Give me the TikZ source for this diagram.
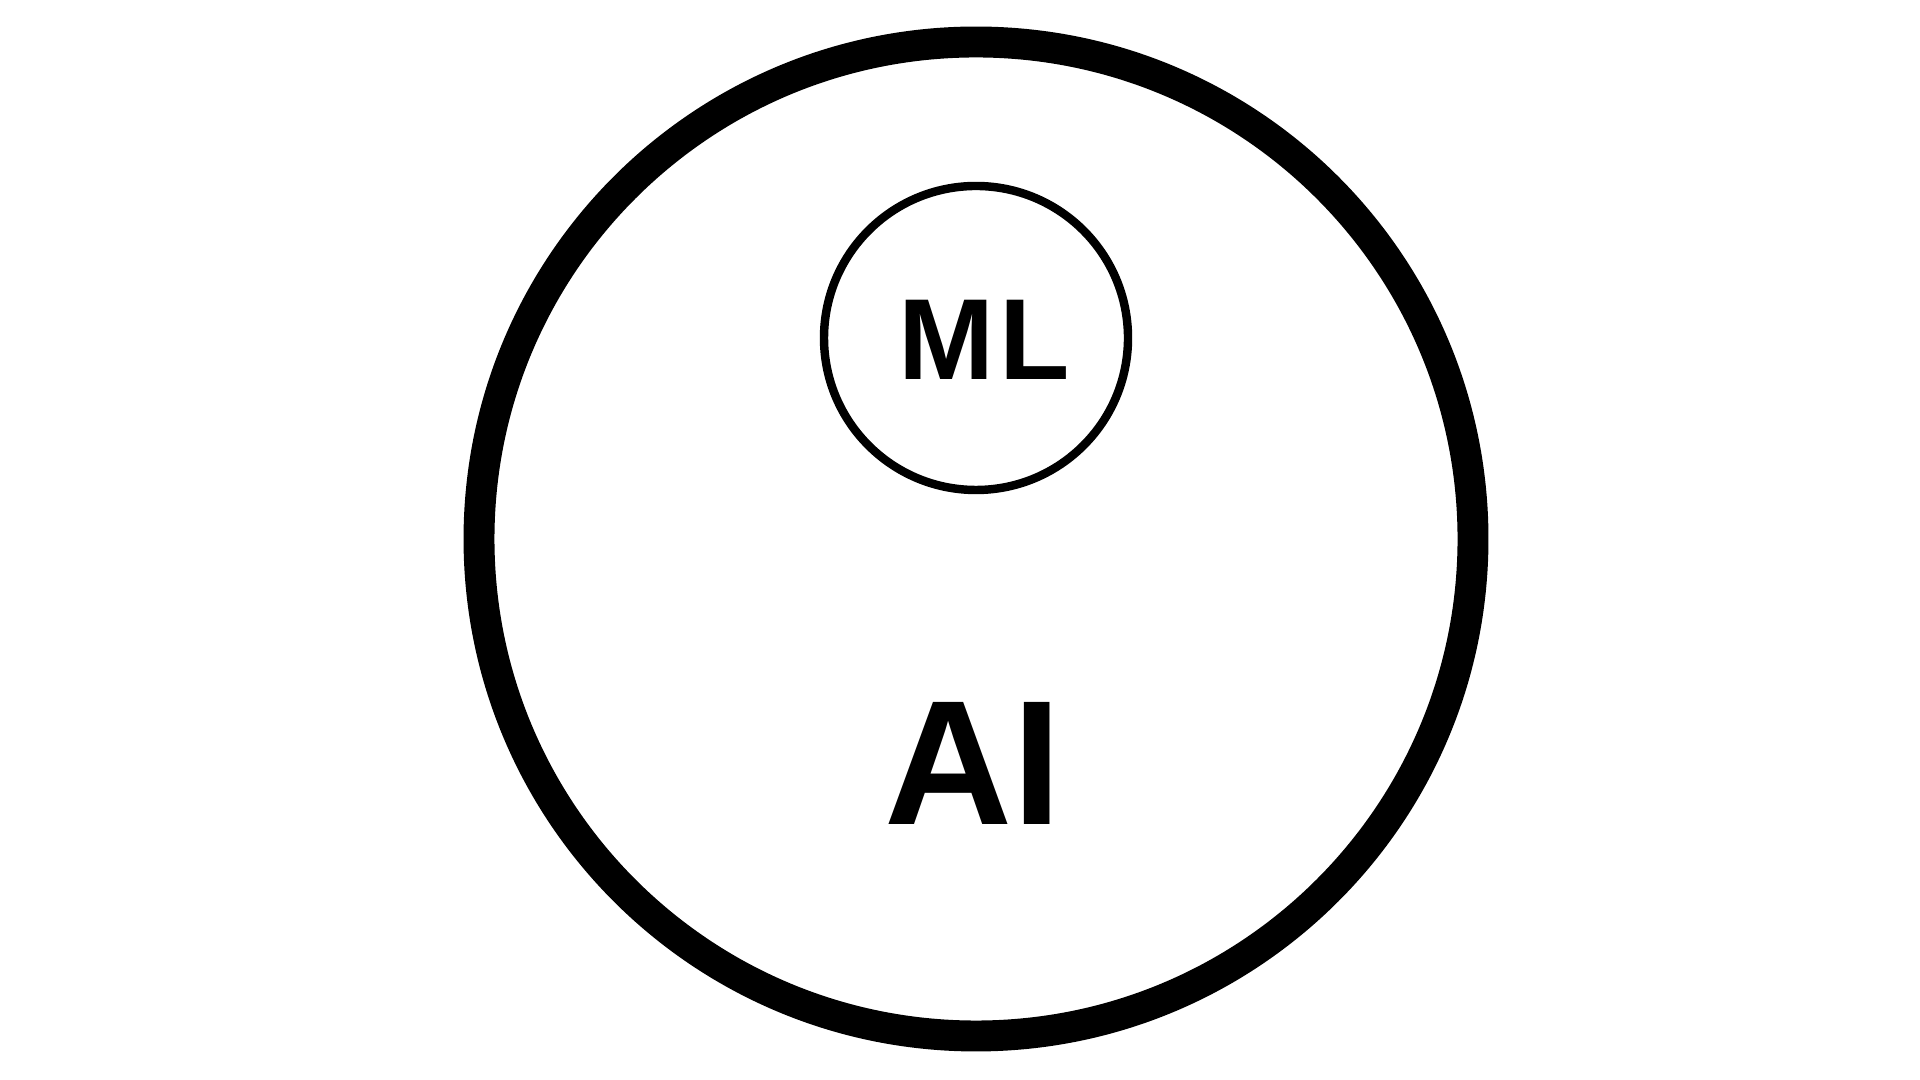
\documentclass[tikz,border=0pt]{standalone}
\usepackage{fontspec}
\setmainfont{Liberation Sans}
\newfontfamily\labelfont{Liberation Sans Bold}
\begin{document}
\begin{tikzpicture}
\useasboundingbox[fill=white] (0,0) rectangle (19.2,10.8);
\tikzset{
  bigring/.style={circle, draw=black, line width=8.8pt, minimum size=9.94cm, inner sep=0pt},
  smallring/.style={circle, draw=black, line width=2.4pt, minimum size=3.04cm, inner sep=0pt},
  lbl/.style={text=black, inner sep=0pt, anchor=center}
}
\node[bigring] (ai) at (9.76,5.41) {};
\node[smallring] (ml) at (9.76,7.42) {};
\node[lbl, font=\labelfont\fontsize{32.8}{38}\selectfont] (mltext) at (9.84,7.40) {M\kern1.5ptL};
\node[lbl, font=\labelfont\fontsize{50.5}{56}\selectfont] (aitext) at (9.73,3.17) {AI};
\end{tikzpicture}
\end{document}
